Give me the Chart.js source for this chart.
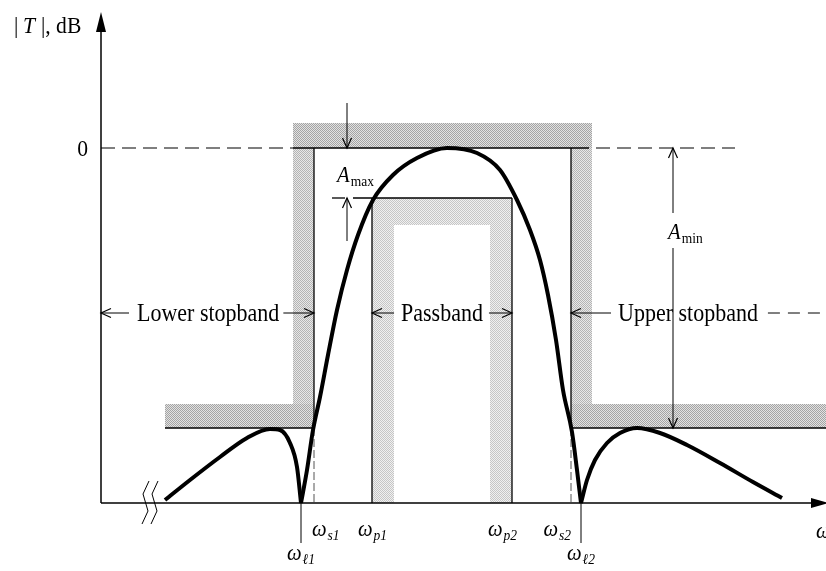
<!DOCTYPE html>
<html>
<head>
<meta charset="utf-8">
<script src="https://cdn.jsdelivr.net/npm/chart.js@4"></script>
<style>
  html, body { margin: 0; padding: 0; background: #fff; }
  #wrap { width: 826px; height: 571px; }
</style>
</head>
<body>
<div id="wrap"><canvas id="chart" width="826" height="571"></canvas></div>
<script>
// band edges (arbitrary frequency units) and their labels
const edgeMain = ['ω', 'ω', 'ω', 'ω', 'ω', 'ω'];
const edgeSubs = ['ℓ1', 's1', 'p1', 'p2', 's2', 'ℓ2'];
const edgeFreqs = [40, 42.6, 54.2, 82.2, 94, 96];

// reference levels in dB
const levelZero = 0;
const levelAmax = -10;
const levelAmin = -56;

// |T| response, in three pieces (cusps at the zeros)
const lowLobeW = [12.8, 17.8, 23.8, 29.2, 33.8, 35.8, 37.8, 39.2, 40];
const lowLobeDb = [-70.4, -66.4, -61.8, -58, -56.2, -56.4, -59, -63.8, -71];
const mainLobeW = [40, 41.2, 42.4, 43.8, 45.4, 47.2, 49.2, 51.4, 54.4, 58.4, 63.2, 69.2, 75.2, 79.8, 83.2, 85.8, 87.8, 89.4, 91, 92.4, 94.2, 95.2, 96];
const mainLobeDb = [-71, -64.4, -56.4, -49.8, -41.4, -32.4, -24.4, -17.4, -10.4, -5.4, -2, 0, -1, -4.4, -10.4, -16.4, -22.4, -29.4, -38.4, -48.4, -56.8, -64.4, -71];
const highLobeW = [96, 97.2, 98.8, 101.2, 103.8, 107.2, 111.8, 117.2, 123.8, 130.4, 136.2];
const highLobeDb = [-71, -66.4, -62.4, -59, -57, -56, -57, -59.4, -63, -66.8, -70];

const bandNames = ['Lower stopband', 'Passband', 'Upper stopband'];

const SERIF = '"Liberation Serif", "Times New Roman", serif';

function toPoints(xs, ys) {
  return xs.map((v, i) => ({ x: v, y: ys[i] }));
}

function txt(ctx, s, x, y, o = {}) {
  const size = o.size || 24;
  const sx = o.sx || 0.9;
  ctx.save();
  ctx.font = `${o.italic ? 'italic ' : ''}${size}px ${SERIF}`;
  const w = ctx.measureText(s).width * sx;
  let left = x;
  if (o.align === 'center') left = x - w / 2;
  if (o.align === 'right') left = x - w;
  ctx.translate(left, y);
  ctx.scale(sx, 1);
  ctx.fillStyle = '#000';
  ctx.textAlign = 'left';
  ctx.textBaseline = 'alphabetic';
  ctx.fillText(s, 0, 0);
  ctx.restore();
  return w;
}

function measure(ctx, s, size, italic, sx = 0.9) {
  ctx.save();
  ctx.font = `${italic ? 'italic ' : ''}${size}px ${SERIF}`;
  const w = ctx.measureText(s).width * sx;
  ctx.restore();
  return w;
}

// symbol with subscript
function subLabel(ctx, main, sub, x, y, align, subItalic = true, size = 23) {
  const subSize = Math.round(size * 0.66);
  const wm = measure(ctx, main, size, true);
  const ws = measure(ctx, sub, subSize, subItalic);
  const total = wm + 1 + ws;
  let left = x;
  if (align === 'center') left = x - total / 2;
  if (align === 'right') left = x - total;
  txt(ctx, main, left, y, { size, italic: true });
  txt(ctx, sub, left + wm + 1, y + 4, { size: subSize, italic: subItalic });
}

function line(ctx, x1, y1, x2, y2, w = 1.3, dash = [], color = '#000') {
  ctx.save();
  ctx.strokeStyle = color;
  ctx.lineWidth = w;
  ctx.setLineDash(dash);
  ctx.beginPath();
  ctx.moveTo(x1, y1);
  ctx.lineTo(x2, y2);
  ctx.stroke();
  ctx.restore();
}

// open "V" arrow head with tip at (x, y) pointing along (dx, dy)
function head(ctx, x, y, dx, dy, len = 10, half = 4.5) {
  const bx = x - dx * len, by = y - dy * len;
  const nx = -dy, ny = dx;
  ctx.save();
  ctx.strokeStyle = '#000';
  ctx.lineWidth = 1.2;
  ctx.beginPath();
  ctx.moveTo(bx + nx * half, by + ny * half);
  ctx.lineTo(x, y);
  ctx.lineTo(bx - nx * half, by - ny * half);
  ctx.stroke();
  ctx.restore();
}

// stipple look of the printed screens
function stipple(ctx, dark, light) {
  const c = document.createElement('canvas');
  c.width = 2; c.height = 2;
  const g = c.getContext('2d');
  g.fillStyle = light;
  g.fillRect(0, 0, 2, 2);
  g.fillStyle = dark;
  g.fillRect(0, 0, 1, 1);
  g.fillRect(1, 1, 1, 1);
  return ctx.createPattern(c, 'repeat');
}

const diagram = {
  id: 'diagram',
  beforeDatasetsDraw(chart) {
    const { ctx, scales: { x, y } } = chart;
    const px = v => x.getPixelForValue(v);
    const py = v => y.getPixelForValue(v);
    const [xl1, xs1, xp1, xp2, xs2, xl2] = edgeFreqs.map(px);
    const y0 = py(levelZero), yMax = py(levelAmax), yMin = py(levelAmin), yBase = y.bottom;
    const xFloor = px(12.8);
    const bw = 21;

    // shaded forbidden zones of the stopband / passband specs
    ctx.save();
    ctx.fillStyle = stipple(ctx, '#a4a4a4', '#e2e2e2');
    ctx.fillRect(xs1 - bw, y0 - 25, (xs2 + bw) - (xs1 - bw), 25);
    ctx.fillRect(xFloor, yMin - 24, xs1 - xFloor, 24);
    ctx.fillRect(xs2, yMin - 24, chart.width - xs2, 24);
    ctx.fillStyle = stipple(ctx, '#b4b4b4', '#e8e8e8');
    ctx.fillRect(xs1 - bw, y0, bw, yMin - 24 - y0);
    ctx.fillRect(xs2, y0, bw, yMin - 24 - y0);
    ctx.fillStyle = stipple(ctx, '#c6c6c6', '#f0f0f0');
    ctx.fillRect(xp1, yMax, 22, yBase - yMax);
    ctx.fillRect(xp2 - 22, yMax, 22, yBase - yMax);
    ctx.fillRect(xp1, yMax, xp2 - xp1, 27);
    ctx.restore();

    // axes
    line(ctx, x.left, yBase, x.left, y.top + 16, 1.5);
    ctx.beginPath();
    ctx.moveTo(x.left, y.top);
    ctx.lineTo(x.left - 5, y.top + 20);
    ctx.lineTo(x.left + 5, y.top + 20);
    ctx.closePath();
    ctx.fill();
    line(ctx, x.left, yBase, x.right - 8, yBase, 1.5);
    ctx.beginPath();
    ctx.moveTo(x.right + 3, yBase);
    ctx.lineTo(x.right - 15, yBase - 5);
    ctx.lineTo(x.right - 15, yBase + 5);
    ctx.closePath();
    ctx.fill();

    // axis break mark
    [px(8.6), px(10.4)].forEach(bx => {
      ctx.save();
      ctx.strokeStyle = '#000';
      ctx.lineWidth = 1;
      ctx.beginPath();
      ctx.moveTo(bx + 5, yBase - 22);
      ctx.lineTo(bx - 1, yBase - 9);
      ctx.lineTo(bx + 4, yBase + 8);
      ctx.lineTo(bx - 2, yBase + 21);
      ctx.stroke();
      ctx.restore();
    });

    // 0 dB reference
    line(ctx, x.left, y0, xs1 - bw, y0, 1.2, [14, 7]);
    line(ctx, xs1 - bw, y0, xs2 + bw - 3, y0, 1.3);
    line(ctx, xs2 + bw + 4, y0, px(126.8), y0, 1.2, [14, 7]);

    // stopband spec box
    line(ctx, xs1, y0, xs1, yMin, 1.3);
    line(ctx, xs2, y0, xs2, yMin, 1.3);
    line(ctx, xFloor, yMin, xs1, yMin, 1.3);
    line(ctx, xs2, yMin, chart.width, yMin, 1.3);
    line(ctx, xs1, yMin, xs1, yBase, 1, [8, 3], '#555');
    line(ctx, xs2, yMin, xs2, yBase, 1, [8, 3], '#555');

    // passband spec box
    line(ctx, xp1, yMax, xp1, yBase, 1.3);
    line(ctx, xp2, yMax, xp2, yBase, 1.3);
    line(ctx, px(46.2), yMax, px(48.8), yMax, 1.3);
    line(ctx, px(50.4), yMax, xp2, yMax, 1.3);

    // zero ticks
    line(ctx, xl1, yBase, xl1, yBase + 40, 1);
    line(ctx, xl2, yBase, xl2, yBase + 40, 1);
  },
  afterDatasetsDraw(chart) {
    const { ctx, scales: { x, y } } = chart;
    const px = v => x.getPixelForValue(v);
    const py = v => y.getPixelForValue(v);
    const [xl1, xs1, xp1, xp2, xs2, xl2] = edgeFreqs.map(px);
    const y0 = py(levelZero), yMax = py(levelAmax), yMin = py(levelAmin), yBase = y.bottom;

    // y axis title
    txt(ctx, '|', 14, 33, { size: 24 });
    txt(ctx, 'T', 23, 33, { size: 24, italic: true });
    txt(ctx, '|, dB', 41, 33, { size: 24 });
    txt(ctx, '0', 88, y0 + 8, { size: 24, align: 'right' });

    // A_max
    const xa = px(49.2);
    line(ctx, xa, y0 - 45, xa, y0, 1);
    head(ctx, xa, y0, 0, 1);
    line(ctx, xa, yMax + 43, xa, yMax, 1);
    head(ctx, xa, yMax, 0, -1);
    subLabel(ctx, 'A', 'max', 337, 182, 'left', false, 23);

    // A_min
    const xb = px(114.4);
    line(ctx, xb, y0, xb, py(-13), 1);
    head(ctx, xb, y0, 0, -1);
    line(ctx, xb, py(-20), xb, yMin, 1);
    head(ctx, xb, yMin, 0, 1);
    subLabel(ctx, 'A', 'min', 668, 239, 'left', false, 23);

    // band labels
    const yb = py(-33);
    const base = yb + 8;
    // lower stopband
    const wl = txt(ctx, bandNames[0], 137, base, { size: 25, sx: 0.88 });
    line(ctx, x.left, yb, 129, yb, 1);
    head(ctx, x.left, yb, -1, 0);
    line(ctx, 137 + wl + 4, yb, xs1, yb, 1);
    head(ctx, xs1, yb, 1, 0);
    // passband
    const wp = measure(ctx, bandNames[1], 25, false, 0.88);
    const cx = (xp1 + xp2) / 2;
    txt(ctx, bandNames[1], cx, base, { size: 25, sx: 0.88, align: 'center' });
    line(ctx, xp1, yb, cx - wp / 2 - 7, yb, 1);
    head(ctx, xp1, yb, -1, 0);
    line(ctx, cx + wp / 2 + 6, yb, xp2, yb, 1);
    head(ctx, xp2, yb, 1, 0);
    // upper stopband
    const wu = txt(ctx, bandNames[2], 618, base, { size: 25, sx: 0.88 });
    line(ctx, xs2, yb, 611, yb, 1);
    head(ctx, xs2, yb, -1, 0);
    line(ctx, 618 + wu + 10, yb, chart.width, yb, 1, [12, 8]);

    // edge frequency labels
    const yl = yBase + 33;
    subLabel(ctx, edgeMain[1], edgeSubs[1], xs1 - 2, yl, 'left');
    subLabel(ctx, edgeMain[2], edgeSubs[2], xp1 - 14, yl, 'left');
    subLabel(ctx, edgeMain[3], edgeSubs[3], xp2 - 24, yl, 'left');
    subLabel(ctx, edgeMain[4], edgeSubs[4], xs2, yl, 'right');
    subLabel(ctx, edgeMain[0], edgeSubs[0], xl1, yBase + 57, 'center');
    subLabel(ctx, edgeMain[5], edgeSubs[5], xl2, yBase + 57, 'center');

    // frequency axis symbol, cut by the frame
    txt(ctx, 'ω', 816, yl + 2, { size: 23, italic: true });
  }
};

const curveStyle = {
  borderColor: '#000',
  borderWidth: 4,
  pointRadius: 0,
  fill: false,
  cubicInterpolationMode: 'monotone',
  clip: false,
  borderCapStyle: 'butt',
  borderJoinStyle: 'miter'
};

new Chart(document.getElementById('chart'), {
  type: 'line',
  data: {
    datasets: [
      { label: 'low lobe', data: toPoints(lowLobeW, lowLobeDb), ...curveStyle },
      { label: 'main lobe', data: toPoints(mainLobeW, mainLobeDb), ...curveStyle },
      { label: 'high lobe', data: toPoints(highLobeW, highLobeDb), ...curveStyle }
    ]
  },
  options: {
    responsive: false,
    animation: false,
    devicePixelRatio: 1,
    layout: { padding: { left: 101, right: 0, top: 12, bottom: 68 } },
    plugins: { legend: { display: false }, tooltip: { enabled: false } },
    scales: {
      x: { type: 'linear', min: 0, max: 145, display: false },
      y: { type: 'linear', min: -71, max: 27.2, display: false }
    }
  },
  plugins: [diagram]
});
</script>
</body>
</html>
